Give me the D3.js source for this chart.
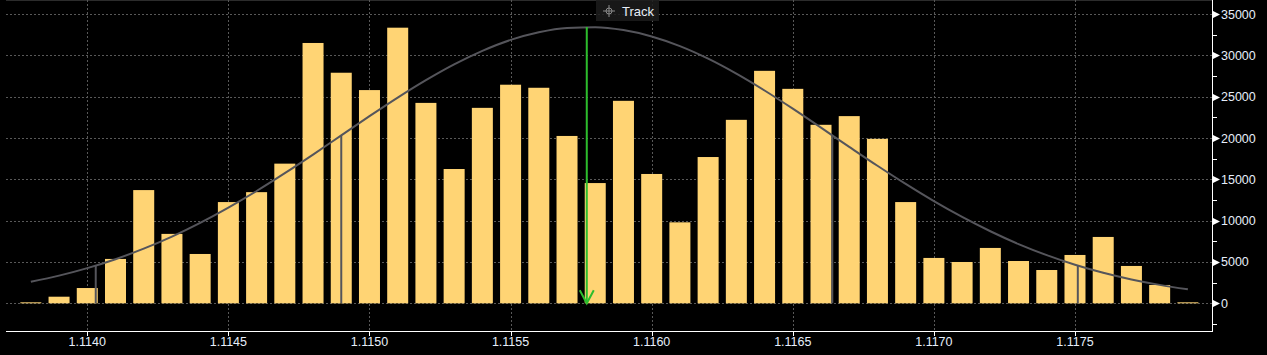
<!DOCTYPE html>
<html>
<head>
<meta charset="utf-8">
<script src="https://cdn.jsdelivr.net/npm/d3@7"></script>
<style>
  html, body { margin: 0; padding: 0; background: #000; }
  .chart { width: 1267px; height: 355px; }
  text { font-family: "Liberation Sans", Arial, sans-serif; }
</style>
</head>
<body>
<div class="chart"></div>
<script>
// price buckets (bar centres) and volume per bucket
var prices = [
  1.1138, 1.1139, 1.1140, 1.1141, 1.1142, 1.1143, 1.1144, 1.1145, 1.1146, 1.1147,
  1.1148, 1.1149, 1.1150, 1.1151, 1.1152, 1.1153, 1.1154, 1.1155, 1.1156, 1.1157,
  1.1158, 1.1159, 1.1160, 1.1161, 1.1162, 1.1163, 1.1164, 1.1165, 1.1166, 1.1167,
  1.1168, 1.1169, 1.1170, 1.1171, 1.1172, 1.1173, 1.1174, 1.1175, 1.1176, 1.1177,
  1.1178, 1.1179
];
var volumes = [
  0, 800, 1850, 5370, 13700, 8400, 5970, 12250, 13450, 16900,
  31500, 27900, 25800, 33350, 24250, 16250, 23650, 26450, 26080, 20250,
  14550, 24500, 15650, 9800, 17700, 22200, 28130, 25950, 21600, 22650,
  19900, 12250, 5490, 5000, 6700, 5120, 4030, 5850, 8030, 4520,
  2220, 0
];
// fitted distribution curve, read at each bucket
var curveValues = [
  2600, 3350, 4260, 5340, 6610, 8070, 9730, 11580, 13590, 15750,
  18000, 20320, 22640, 24890, 27000, 28910, 30550, 31870, 32800, 33320,
  33410, 33060, 32290, 31120, 29600, 27790, 25750, 23550, 21250, 18930,
  16640, 14440, 12360, 10450, 8720, 7170, 5830, 4670, 3700, 2890,
  2230, 1690
];
// mean marker and sigma lines
var meanPrice = 1.11577;
var meanValue = 33420;
var sigmaPrices = [1.11403, 1.11490, 1.11664, 1.11751];
var sigmaValues = [4520, 20280, 20280, 4520];

var xTicks = [1.1140, 1.1145, 1.1150, 1.1155, 1.1160, 1.1165, 1.1170, 1.1175];
var yTicks = [0, 5000, 10000, 15000, 20000, 25000, 30000, 35000];
var yMinorTicks = [-2500, 2500, 7500, 12500, 17500, 22500, 27500, 32500];

var svgWidth = 1267;
var svgHeight = 355;
var plot = {left: 6, right: 1212, top: 0, bottom: 331};

var svg = d3.select('.chart')
  .append('svg')
  .attr('width', svgWidth)
  .attr('height', svgHeight);

var x = d3.scaleLinear().domain([1.113712, 1.1179855]).range([plot.left, plot.right]);
var y = d3.scaleLinear().domain([-3350, 36700]).range([plot.bottom, plot.top]);

var barW = 21;
var gridColor = '#585858';

// top border
svg.append('line')
  .attr('x1', plot.left).attr('x2', plot.right)
  .attr('y1', 0.5).attr('y2', 0.5)
  .attr('stroke', '#2c2c2c');

// grid
svg.append('g').selectAll('line')
  .data(yTicks)
  .enter()
  .append('line')
  .attr('x1', plot.left).attr('x2', plot.right)
  .attr('y1', function(d) { return Math.round(y(d)) + 0.5; })
  .attr('y2', function(d) { return Math.round(y(d)) + 0.5; })
  .attr('stroke', gridColor)
  .attr('stroke-dasharray', '2,2');

svg.append('g').selectAll('line')
  .data(xTicks)
  .enter()
  .append('line')
  .attr('x1', function(d) { return Math.round(x(d)) + 0.5; })
  .attr('x2', function(d) { return Math.round(x(d)) + 0.5; })
  .attr('y1', plot.top).attr('y2', plot.bottom)
  .attr('stroke', gridColor)
  .attr('stroke-dasharray', '2,2');

// Track badge
var badge = svg.append('g');
badge.append('rect')
  .attr('x', 596).attr('y', 0).attr('width', 63).attr('height', 21)
  .attr('fill', '#1c1c1c')
  .attr('fill-opacity', 0.85);
var cx = 609, cy = 11;
badge.append('circle').attr('cx', cx).attr('cy', cy).attr('r', 3)
  .attr('fill', 'none').attr('stroke', '#8a8a8a');
badge.append('path')
  .attr('d', 'M' + (cx - 6) + ',' + cy + 'H' + (cx + 6) + 'M' + cx + ',' + (cy - 6) + 'V' + (cy + 6))
  .attr('stroke', '#8a8a8a');
badge.append('text')
  .attr('x', 622).attr('y', 16)
  .attr('fill', '#e8eef8')
  .attr('font-size', 13)
  .text('Track');

// bars
svg.append('g').selectAll('rect')
  .data(prices)
  .enter()
  .append('rect')
  .attr('x', function(d) { return x(d) - barW / 2; })
  .attr('width', barW)
  .attr('y', function(d, i) { return Math.min(y(volumes[i]), y(0) - 1); })
  .attr('height', function(d, i) { return Math.max(y(0) - y(volumes[i]), 1); })
  .attr('fill', '#ffd474');

// sigma lines
svg.append('g').selectAll('line')
  .data(sigmaPrices)
  .enter()
  .append('line')
  .attr('x1', function(d) { return x(d); })
  .attr('x2', function(d) { return x(d); })
  .attr('y1', y(0))
  .attr('y2', function(d, i) { return y(sigmaValues[i]); })
  .attr('stroke', '#55555b')
  .attr('stroke-width', 2);

// distribution curve
var line = d3.line()
  .x(function(d) { return x(d); })
  .y(function(d, i) { return y(curveValues[i]); })
  .curve(d3.curveMonotoneX);

svg.append('path')
  .datum(prices)
  .attr('d', line)
  .attr('fill', 'none')
  .attr('stroke', '#55555b')
  .attr('stroke-width', 2);

// mean arrow
var mx = x(meanPrice);
svg.append('line')
  .attr('x1', mx).attr('x2', mx)
  .attr('y1', y(meanValue)).attr('y2', y(0))
  .attr('stroke', '#2dbd2d')
  .attr('stroke-width', 2);
svg.append('path')
  .attr('d', 'M' + (mx - 7) + ',' + (y(0) - 13) + 'L' + mx + ',' + y(0) + 'L' + (mx + 7) + ',' + (y(0) - 13))
  .attr('fill', 'none')
  .attr('stroke', '#2dbd2d')
  .attr('stroke-width', 2);

// x axis
var xAxisG = svg.append('g');
xAxisG.append('line')
  .attr('x1', plot.left).attr('x2', plot.right + 0.5)
  .attr('y1', plot.bottom + 0.5).attr('y2', plot.bottom + 0.5)
  .attr('stroke', '#fff');
xAxisG.selectAll('line.tick')
  .data(xTicks)
  .enter()
  .append('line')
  .attr('class', 'tick')
  .attr('x1', function(d) { return Math.round(x(d)) + 0.5; })
  .attr('x2', function(d) { return Math.round(x(d)) + 0.5; })
  .attr('y1', plot.bottom).attr('y2', plot.bottom + 5)
  .attr('stroke', '#fff');
xAxisG.selectAll('text')
  .data(xTicks)
  .enter()
  .append('text')
  .attr('x', function(d) { return x(d); })
  .attr('y', 346)
  .attr('text-anchor', 'middle')
  .attr('fill', '#e6eefa')
  .attr('font-size', 12.5)
  .text(function(d) { return d3.format('.4f')(d); });

// y axis (right)
var yAxisG = svg.append('g');
yAxisG.append('line')
  .attr('x1', plot.right + 0.5).attr('x2', plot.right + 0.5)
  .attr('y1', 0).attr('y2', plot.bottom + 1)
  .attr('stroke', '#fff');
yAxisG.selectAll('line.minor')
  .data(yMinorTicks)
  .enter()
  .append('line')
  .attr('class', 'minor')
  .attr('x1', plot.right).attr('x2', plot.right + 5)
  .attr('y1', function(d) { return Math.round(y(d)) + 0.5; })
  .attr('y2', function(d) { return Math.round(y(d)) + 0.5; })
  .attr('stroke', '#fff');
yAxisG.selectAll('path')
  .data(yTicks)
  .enter()
  .append('path')
  .attr('d', function(d) {
    var yy = Math.round(y(d)) + 0.5;
    return 'M' + (plot.right + 1) + ',' + (yy - 3.5) + 'L' + (plot.right + 8) + ',' + yy + 'L' + (plot.right + 1) + ',' + (yy + 3.5) + 'Z';
  })
  .attr('fill', '#fff');
yAxisG.selectAll('text')
  .data(yTicks)
  .enter()
  .append('text')
  .attr('x', plot.right + 9)
  .attr('y', function(d) { return y(d) + 4.5; })
  .attr('fill', '#e6eefa')
  .attr('font-size', 12.5)
  .text(function(d) { return d; });
</script>
</body>
</html>
